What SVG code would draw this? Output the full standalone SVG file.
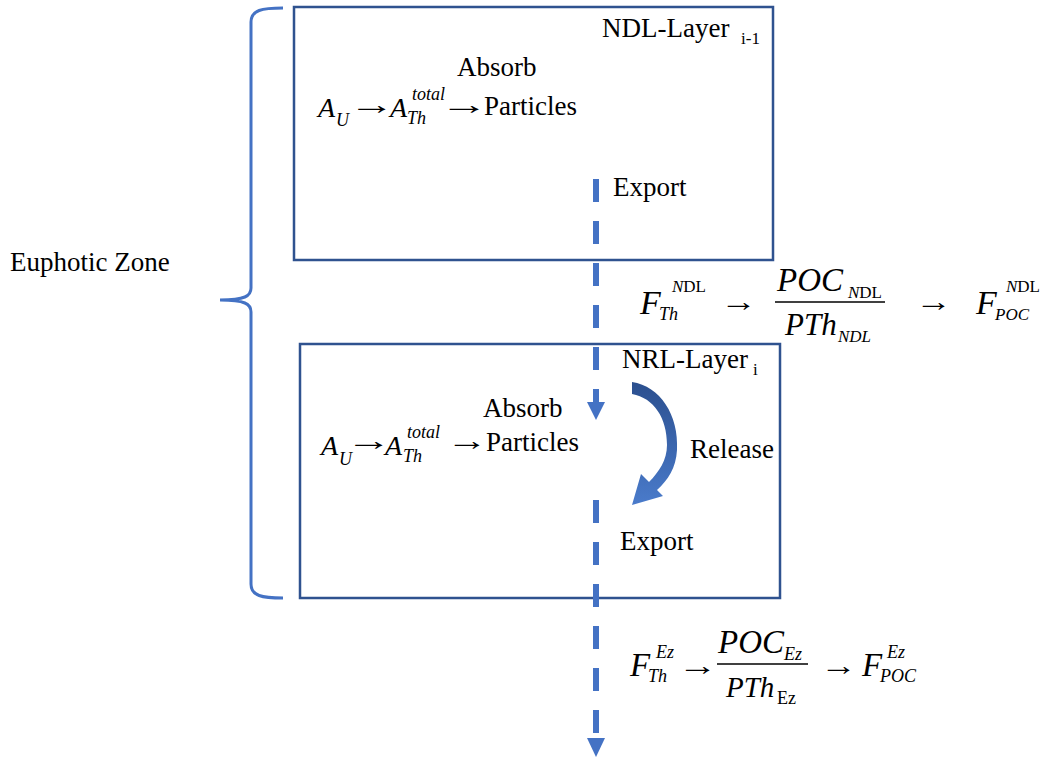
<svg xmlns="http://www.w3.org/2000/svg" width="1043" height="757" viewBox="0 0 1043 757">
<style>
text{font-family:"Liberation Serif","Times New Roman",serif;fill:#000}
.t{font-size:27px}
.m{font-size:28px;font-style:italic}
.big{font-size:33px;font-style:italic}
.s{font-size:18px;font-style:italic}
.su{font-size:17px}
.ar{font-size:28px}
.box{fill:#fff;stroke:#2F528F;stroke-width:2.5}
.dash{stroke:#4472C4;stroke-width:6;stroke-dasharray:23 19;fill:none}
.head{fill:#4472C4}
.bar{stroke:#000;stroke-width:1.5}
</style>
<defs>
<linearGradient id="rg" x1="0" y1="0" x2="0" y2="1">
<stop offset="0" stop-color="#2B4F8E"/>
<stop offset="1" stop-color="#4A7BCB"/>
</linearGradient>
</defs>
<rect width="1043" height="757" fill="#fff"/>

<g id="brace">
<path d="M283,8 C262,8 251,10 251,22 L251,288 C251,296 245,300 220,300 C245,300 251,304 251,312 L251,584 C251,596 262,598 283,598" fill="none" stroke="#4472C4" stroke-width="3"/>
<text class="t" x="10" y="271">Euphotic Zone</text>
</g>

<g id="ndl-layer">
<rect class="box" x="294" y="7" width="479" height="253"/>
<text class="t" x="602" y="37">NDL-Layer</text>
<text class="su" x="741" y="44">i-1</text>
<text class="t" x="457" y="76">Absorb</text>
<text class="m" x="318" y="117">A</text>
<text class="s" x="336" y="126">U</text>
<text class="ar" transform="translate(348.5,114) scale(1.64,1)">→</text>
<text class="m" x="390" y="117">A</text>
<text class="s" x="412" y="100">total</text>
<text class="s" x="407" y="124">Th</text>
<text class="ar" transform="translate(440,114) scale(1.75,1)">→</text>
<text class="t" x="484" y="115">Particles</text>
<text class="t" x="613" y="196">Export</text>
</g>

<g id="ndl-flux">
<text class="big" x="640" y="314" style="font-size:34px">F</text>
<text class="su" x="672" y="292"><tspan font-style="italic">N</tspan>DL</text>
<text class="s" x="659" y="320">Th</text>
<text class="ar" transform="translate(720,311) scale(1.31,1)">→</text>
<text class="big" x="777" y="291">POC</text>
<text class="su" x="848" y="298"><tspan font-style="italic">N</tspan>DL</text>
<line class="bar" x1="775" y1="302" x2="885" y2="302"/>
<text class="big" x="785" y="335" style="font-size:31px">PTh</text>
<text class="s" x="838" y="342" style="font-size:17px">NDL</text>
<text class="ar" transform="translate(915,311) scale(1.31,1)">→</text>
<text class="big" x="976" y="314" style="font-size:34px">F</text>
<text class="su" x="1006" y="292"><tspan font-style="italic">N</tspan>DL</text>
<text class="s" x="995" y="320" style="font-size:17px">POC</text>
</g>

<g id="nrl-layer">
<rect class="box" x="300" y="344" width="480" height="254"/>
<text class="t" x="622" y="368">NRL-Layer</text>
<text class="su" x="753" y="375">i</text>
<text class="t" x="483" y="417">Absorb</text>
<text class="m" x="321" y="455">A</text>
<text class="s" x="339" y="465">U</text>
<text class="ar" transform="translate(345.5,450) scale(1.64,1)">→</text>
<text class="m" x="385" y="455">A</text>
<text class="s" x="407" y="438">total</text>
<text class="s" x="403" y="462">Th</text>
<text class="ar" transform="translate(446,450) scale(1.48,1)">→</text>
<text class="t" x="486" y="451">Particles</text>
<text class="t" x="690" y="458">Release</text>
<text class="t" x="620" y="550">Export</text>
<path id="release-arrow" d="M632,382 C660,386 679,415 677,450 C676,468 668,480 657,490 L663,496 L632,505 L641,474 L649,482 C659,472 667,460 667,445 C667,418 654,398 632,394 Z" fill="url(#rg)"/>
</g>

<g id="ez-flux">
<text class="big" x="630" y="676">F</text>
<text class="s" x="656" y="658">Ez</text>
<text class="s" x="648" y="682">Th</text>
<text class="ar" transform="translate(677.5,675) scale(1.42,1)">→</text>
<text class="big" x="718" y="653">POC</text>
<text class="s" x="784" y="660">Ez</text>
<line class="bar" x1="717" y1="664" x2="808" y2="664"/>
<text class="big" x="726" y="697" style="font-size:29px">PTh</text>
<text class="su" x="777" y="704" style="font-size:18px">Ez</text>
<text class="ar" transform="translate(820,675) scale(1.31,1)">→</text>
<text class="big" x="862" y="676">F</text>
<text class="s" x="887" y="658">Ez</text>
<text class="s" x="880" y="682">POC</text>
</g>

<g id="connectors">
<path class="dash" d="M596,179 V402"/>
<polygon class="head" points="587,402 605,402 596,420"/>
<path class="dash" d="M596,500 V733"/>
<polygon class="head" points="587,738 605,738 596,757"/>
</g>
</svg>
